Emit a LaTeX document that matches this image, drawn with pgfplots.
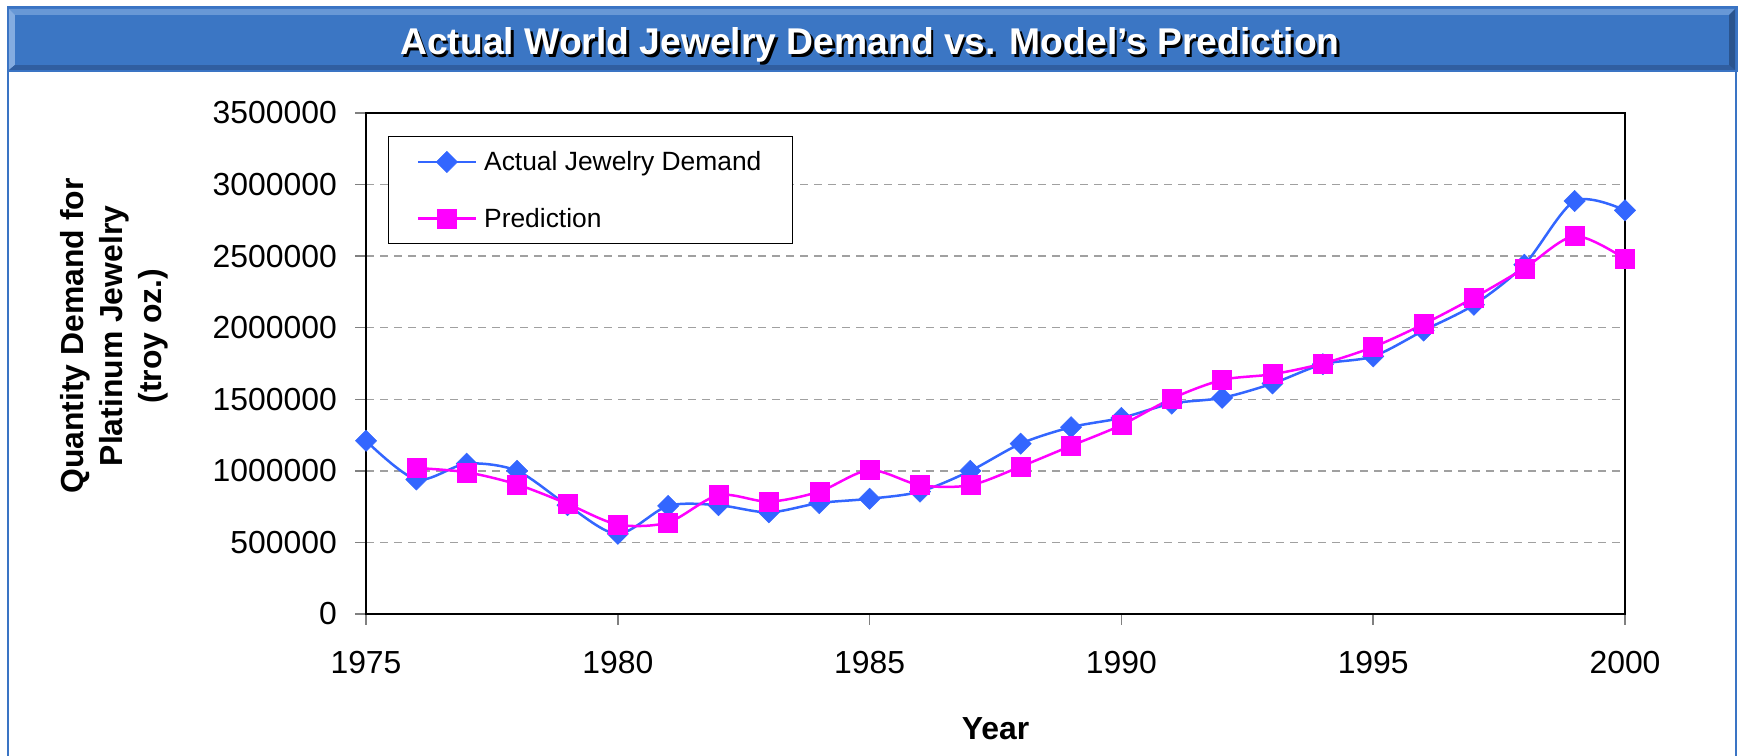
\documentclass[border=0pt]{standalone}
\usepackage{fontspec}
\setmainfont{Liberation Sans}
\usepackage{pgfplots}
\pgfplotsset{compat=1.18}
\usepackage{pgfplotstable}
\definecolor{frameblue}{HTML}{3A74C4}
\definecolor{barmain}{HTML}{3B76C4}
\definecolor{bartop}{HTML}{6898D6}
\definecolor{barleft}{HTML}{84ACE0}
\definecolor{barbottom}{HTML}{305EA0}
\definecolor{barright}{HTML}{2A548E}
\definecolor{actualblue}{HTML}{3366FF}
\definecolor{predpink}{HTML}{FF00FF}
\definecolor{gridgray}{HTML}{A0A0A0}
\definecolor{tickgray}{HTML}{808080}

\pgfplotstableread{
year actual
1975 1210000
1976 940000
1977 1050000
1978 1000000
1979 760000
1980 560000
1981 755000
1982 760000
1983 710000
1984 775000
1985 805000
1986 855000
1987 1000000
1988 1190000
1989 1305000
1990 1370000
1991 1470000
1992 1510000
1993 1610000
1994 1745000
1995 1800000
1996 1980000
1997 2160000
1998 2440000
1999 2885000
2000 2820000
}\actualtable

\pgfplotstableread{
year pred
1976 1020000
1977 990000
1978 905000
1979 770000
1980 625000
1981 640000
1982 830000
1983 785000
1984 855000
1985 1005000
1986 900000
1987 900000
1988 1030000
1989 1175000
1990 1320000
1991 1505000
1992 1635000
1993 1675000
1994 1750000
1995 1865000
1996 2025000
1997 2210000
1998 2415000
1999 2640000
2000 2480000
}\predtable

\begin{document}
\begin{tikzpicture}
\begin{scope}[x=1bp,y=1bp]
\useasboundingbox (0,0) rectangle (1738,756);
\fill[white] (0,0) rectangle (1738,756);
\draw[frameblue, line width=2.5bp] (8,0) -- (8,684);
\draw[frameblue, line width=2.5bp] (1736,0) -- (1736,684);
\fill[frameblue] (6.5,684) rectangle (1737.5,750);
\fill[bartop] (9,747) -- (1735,747) -- (1729,741) -- (15,741) -- cycle;
\fill[barleft] (9,747) -- (15,741) -- (15,691) -- (9,686) -- cycle;
\fill[barbottom] (9,686) -- (15,691) -- (1729,691) -- (1735,686) -- cycle;
\fill[barright] (1735,747) -- (1729,741) -- (1729,691) -- (1735,686) -- cycle;
\fill[barmain] (15,741) rectangle (1729,691);
\node[anchor=base, inner sep=0pt, text=black, font=\bfseries\fontsize{37.4}{44}\selectfont] at (872.5,698.5) {Actual World Jewelry Demand vs. Model’s Prediction};
\node[anchor=base, inner sep=0pt, text=white, font=\bfseries\fontsize{37.4}{44}\selectfont] at (870,701.5) {Actual World Jewelry Demand vs. Model’s Prediction};
\node[rotate=90, align=center, inner sep=0pt, font=\bfseries\fontsize{32}{39}\selectfont] at (114,420) {Quantity Demand for\\Platinum Jewelry\\(troy oz.)};
\node[anchor=base, inner sep=0pt, font=\bfseries\fontsize{32}{38}\selectfont] at (995.5,16) {Year};
\end{scope}

\begin{axis}[
  at={(366bp,142bp)}, anchor=south west,
  width=1259bp, height=501bp, scale only axis,
  xmin=1975, xmax=2000, ymin=0, ymax=3500000,
  xtick={1975,1980,1985,1990,1995,2000},
  ytick={0,500000,1000000,1500000,2000000,2500000,3000000,3500000},
  scaled y ticks=false,
  /pgf/number format/fixed,
  /pgf/number format/precision=0,
  /pgf/number format/1000 sep={},
  /pgf/number format/assume math mode=true,
  axis line style={black, line width=2bp},
  tick align=outside,
  major tick length=11bp,
  tick style={tickgray, line width=1.5bp},
  xtick pos=bottom, ytick pos=left,
  ymajorgrids,
  grid style={gridgray, line width=1.5bp, dash pattern=on 8bp off 6bp},
  ticklabel style={font=\fontsize{32}{38}\selectfont, inner sep=0pt},
  xticklabel style={anchor=north, yshift=-26bp},
  yticklabel style={anchor=east, xshift=-18bp},
  legend style={at={(0.0175,0.954)}, anchor=north west, draw=black, line width=1.2bp, fill=white,
    font=\fontsize{26.5}{31}\selectfont, inner xsep=28bp, inner ysep=12bp, row sep=30bp,
    column sep=4bp, nodes={inner sep=3bp}},
  legend cell align=left,
  legend image code/.code={\draw[mark repeat=2, mark phase=2, #1] plot coordinates {(0bp,0bp) (29bp,0bp) (58bp,0bp)};},
]
\addplot[actualblue, line width=2.5bp, smooth, mark=square*, mark size=7.5bp,
  mark options={solid, rotate=45, fill=actualblue, draw=actualblue, line width=0.5bp}]
  table[x=year, y=actual] {\actualtable};
\addlegendentry{Actual Jewelry Demand}
\addplot[predpink, line width=2.5bp, smooth, mark=square*, mark size=9.5bp,
  mark options={solid, fill=predpink, draw=predpink, line width=0.5bp}]
  table[x=year, y=pred] {\predtable};
\addlegendentry{Prediction}
\end{axis}
\end{tikzpicture}
\end{document}
